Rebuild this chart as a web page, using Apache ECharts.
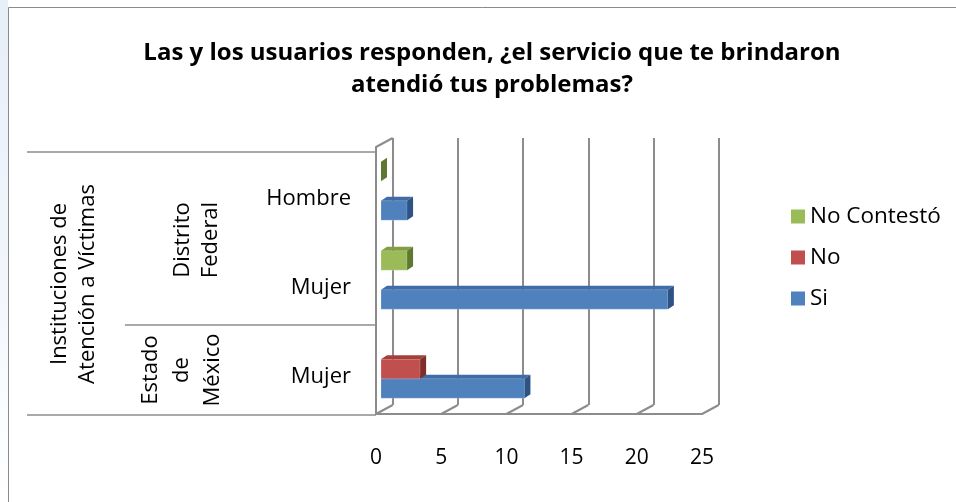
<!DOCTYPE html>
<html>
<head>
<meta charset="utf-8">
<script src="https://cdn.jsdelivr.net/npm/echarts@6/dist/echarts.min.js"></script>
<style>
html,body{margin:0;padding:0;background:#fff;}
#c{width:956px;height:502px;}
</style>
</head>
<body>
<div id="c"></div>
<script>
// ---------- data ----------
const titleText = 'Las y los usuarios responden, ¿el servicio que te brindaron\natendió tus problemas?';
const categories = ['Mujer', 'Mujer', 'Hombre'];            // bottom -> top
const groups = ['Estado de México', 'Distrito Federal', 'Distrito Federal'];
const topGroup = 'Instituciones de Atención a Víctimas';
const seriesNames = ['Si', 'No', 'No Contestó'];
const siValues = [11, 22, 2];
const noValues = [3, null, null];
const noContestoValues = [null, 2, 0];
const xTicks = [0, 5, 10, 15, 20, 25];

// ---------- style ----------
const FONT = '"Open Sans", sans-serif';
const colors = ['#4F81BD', '#C0504D', '#9BBB59'];
const topColors = ['#3F6CA6', '#A53F3C', '#819E45'];
const sideColors = ['#2E5283', '#7F2E2B', '#5F7831'];
const FRONT = {left: 376, right: 702, top: 147, bottom: 414};
const DEPTH = {dx: 16.7, dy: 9};
const W = 956, H = 502;
const slotOffset = [0.213, -0.006, -0.225]; // fraction of band
const barFrac = 0.219;
const barShiftX = 5, barDX = 6, barDY = 4;
const gridColor = '#8C8C8C';

const allValues = [siValues, noValues, noContestoValues];

function makeRender(s) {
  return function (params, api) {
    const v = api.value(0), c = api.value(1);
    const p0 = api.coord([0, c]);
    const p1 = api.coord([v, c]);
    const band = api.size([0, 1])[1];
    const t = band * barFrac;
    const cy = p0[1] + band * slotOffset[s];
    const x0 = p0[0] + barShiftX, x1 = p1[0] + barShiftX;
    const yT = cy - t / 2, yB = cy + t / 2;
    const children = [];
    if (x1 > x0) {
      children.push({type: 'rect', shape: {x: x0, y: yT, width: x1 - x0, height: t},
        style: {fill: colors[s], stroke: 'rgba(255,255,255,0.35)', lineWidth: 0.6}});
    }
    children.push({type: 'polygon', shape: {points: [[x0, yT], [x1, yT], [x1 + barDX, yT - barDY], [x0 + barDX, yT - barDY]]},
      style: {fill: topColors[s]}});
    children.push({type: 'polygon', shape: {points: [[x1, yT], [x1 + barDX, yT - barDY], [x1 + barDX, yB - barDY], [x1, yB]]},
      style: {fill: sideColors[s]}});
    return {type: 'group', children: children};
  };
}

const series = seriesNames.map((name, s) => ({
  name: name,
  type: 'custom',
  xAxisIndex: 0, yAxisIndex: 0,
  itemStyle: {color: colors[s]},
  encode: {x: 0, y: 1},
  renderItem: makeRender(s),
  data: allValues[s].map((v, i) => v === null ? null : [v, i]).filter(d => d !== null),
  z: 5
}));

const option = {
  animation: false,
  color: colors,
  textStyle: {fontFamily: FONT},
  title: {
    text: titleText,
    left: 487, top: 32, textAlign: 'center',
    textStyle: {fontFamily: FONT, fontSize: 24, fontWeight: 'bold', color: '#000', lineHeight: 32}
  },
  legend: {
    orient: 'vertical', left: 786, top: 200,
    data: ['No Contestó', 'No', 'Si'],
    icon: 'rect', itemWidth: 14, itemHeight: 14, itemGap: 18,
    textStyle: {fontFamily: FONT, fontSize: 22.5, color: '#000'}
  },
  grid: [
    {left: FRONT.left, right: W - FRONT.right, top: FRONT.top, bottom: H - FRONT.bottom},
    {left: FRONT.left + DEPTH.dx, right: W - FRONT.right - DEPTH.dx, top: FRONT.top - DEPTH.dy, bottom: H - FRONT.bottom + DEPTH.dy}
  ],
  xAxis: [
    {gridIndex: 0, type: 'value', min: xTicks[0], max: xTicks[xTicks.length - 1], interval: 5,
      axisLine: {show: true, lineStyle: {color: gridColor, width: 2}},
      axisTick: {show: false}, splitLine: {show: false},
      axisLabel: {margin: 34, fontSize: 21, color: '#000', fontFamily: FONT}},
    {gridIndex: 1, type: 'value', min: xTicks[0], max: xTicks[xTicks.length - 1], interval: 5,
      axisLine: {show: false}, axisTick: {show: false}, axisLabel: {show: false},
      splitLine: {show: true, lineStyle: {color: gridColor, width: 2}}}
  ],
  yAxis: [
    {gridIndex: 0, type: 'category', data: categories,
      axisLine: {show: true, lineStyle: {color: gridColor, width: 2}},
      axisTick: {show: false},
      axisLabel: {margin: 25, fontSize: 22, color: '#000', fontFamily: FONT, verticalAlign: 'top', lineHeight: 14}},
    {gridIndex: 1, type: 'category', data: categories, show: false}
  ],
  series: series
};

const chart = echarts.init(document.getElementById('c'));
chart.setOption(option);

// 3D floor / wall edges and the grouped-category table
const lineStyle = {stroke: gridColor, lineWidth: 2};
const elements = [];
xTicks.forEach(v => {
  const fx = chart.convertToPixel({xAxisIndex: 0}, v);
  const bx = chart.convertToPixel({xAxisIndex: 1}, v);
  elements.push({type: 'line', shape: {x1: fx, y1: FRONT.bottom, x2: bx, y2: FRONT.bottom - DEPTH.dy}, style: lineStyle, z: 1});
});
elements.push({type: 'line', shape: {x1: FRONT.left, y1: FRONT.top, x2: FRONT.left + DEPTH.dx, y2: FRONT.top - DEPTH.dy}, style: lineStyle, z: 1});

const tblStyle = {stroke: gridColor, lineWidth: 1.5};
const bandH = (FRONT.bottom - FRONT.top) / categories.length;
elements.push({type: 'line', shape: {x1: 27, y1: FRONT.top + 5, x2: FRONT.left, y2: FRONT.top + 5}, style: tblStyle});
elements.push({type: 'line', shape: {x1: 125, y1: FRONT.bottom - bandH, x2: FRONT.left, y2: FRONT.bottom - bandH}, style: tblStyle});
elements.push({type: 'line', shape: {x1: 27, y1: FRONT.bottom + 1, x2: FRONT.left, y2: FRONT.bottom + 1}, style: tblStyle});

function vtext(txt, x, y, lh) {
  return {type: 'text', x: x, y: y, rotation: Math.PI / 2,
    style: {text: txt, fontFamily: FONT, fontSize: 22, fill: '#000', align: 'center', verticalAlign: 'middle', lineHeight: lh}};
}
elements.push(vtext('Instituciones de\nAtención a Víctimas', 74, 284, 28));
elements.push(vtext('Distrito\nFederal', 197, 240, 28));
elements.push(vtext('Estado\nde\nMéxico', 182, 370, 31));

// chart frame
elements.push({type: 'rect', shape: {x: 8.5, y: 7.5, width: 960, height: 520}, style: {fill: null, stroke: '#8A8A8A', lineWidth: 1}});
elements.push({type: 'rect', shape: {x: 0, y: 0, width: 8, height: 502},
  style: {fill: new echarts.graphic.LinearGradient(0, 0, 0, 1, [{offset: 0, color: '#E6EEF8'}, {offset: 0.6, color: '#F3F7FC'}, {offset: 1, color: '#FFFFFF'}])}});

chart.setOption({graphic: {elements: elements}});
</script>
</body>
</html>
